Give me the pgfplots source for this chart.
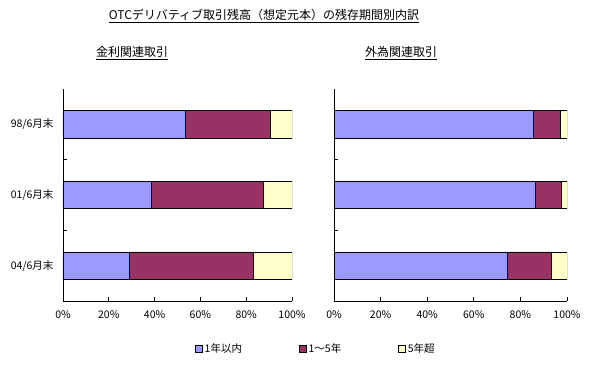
\documentclass[border=0pt]{standalone}
\usepackage{fontspec}
\setmainfont{Noto Sans CJK JP}
\usepackage{pgfplots}
\pgfplotsset{compat=1.18}
\definecolor{c1}{HTML}{9999FF}
\definecolor{c2}{HTML}{993366}
\definecolor{c3}{HTML}{FFFFCC}
\begin{document}
\begin{tikzpicture}[x=1pt,y=1pt]
\useasboundingbox (0,0) rectangle (590,365);
\pgfplotsset{
 myaxis/.style={
  scale only axis, height=212pt,
  xbar stacked, bar width=0.39,
  xmin=0, xmax=100, ymin=-0.5, ymax=2.5, y dir=reverse,
  axis x line*=bottom, axis y line*=left,
  axis line style={black, line width=0.8pt},
  xtick={0,20,...,100},
  xticklabel={\pgfmathprintnumber{\tick}\%},
  xticklabel style={yshift=-6pt},
  ytick={0.5,1.5}, yticklabels={},
  tick align=inside, major tick length=4pt,
  tick style={black, line width=0.8pt},
  /pgf/number format/assume math mode=true,
  tick label style={font=\fontsize{10.5}{12}\selectfont},
  every axis plot/.append style={draw=black, line width=0.7pt},
  legend image code/.code={\draw[#1,draw=black,line width=0.6pt] (0pt,-3.5pt) rectangle (7pt,3.5pt);},
 }
}
\node at (264,349) {\fontsize{12}{14}\selectfont\underline{OTCデリバティブ取引残高（想定元本）の残存期間別内訳}};
\node at (132,312) {\fontsize{12}{14}\selectfont\underline{金利関連取引}};
\node at (401,312) {\fontsize{12}{14}\selectfont\underline{外為関連取引}};
\begin{axis}[myaxis, at={(63pt,64pt)}, anchor=south west, width=229pt,
  extra y ticks={0,1,2},
  extra y tick labels={98/6月末,01/6月末,04/6月末},
  extra y tick style={major tick length=0pt, yticklabel style={xshift=-6pt}},
  legend columns=3,
  legend style={draw=none, fill=none, inner sep=0pt, at={(0.576,-0.226)}, anchor=west,
    font=\fontsize{10.5}{12}\selectfont,
    /tikz/every even column/.append style={column sep=55pt}},
]
\addplot[fill=c1] coordinates {(53.4,0) (38.7,1) (28.9,2)};
\addplot[fill=c2] coordinates {(37.1,0) (48.6,1) (54.3,2)};
\addplot[fill=c3] coordinates {(9.5,0) (12.7,1) (16.8,2)};
\legend{1年以内,1～5年,5年超}
\end{axis}
\begin{axis}[myaxis, at={(334pt,64pt)}, anchor=south west, width=233pt]
\addplot[fill=c1] coordinates {(85.7,0) (86.3,1) (74.2,2)};
\addplot[fill=c2] coordinates {(11.6,0) (11.4,1) (19.2,2)};
\addplot[fill=c3] coordinates {(2.7,0) (2.3,1) (6.6,2)};
\end{axis}
\end{tikzpicture}
\end{document}
